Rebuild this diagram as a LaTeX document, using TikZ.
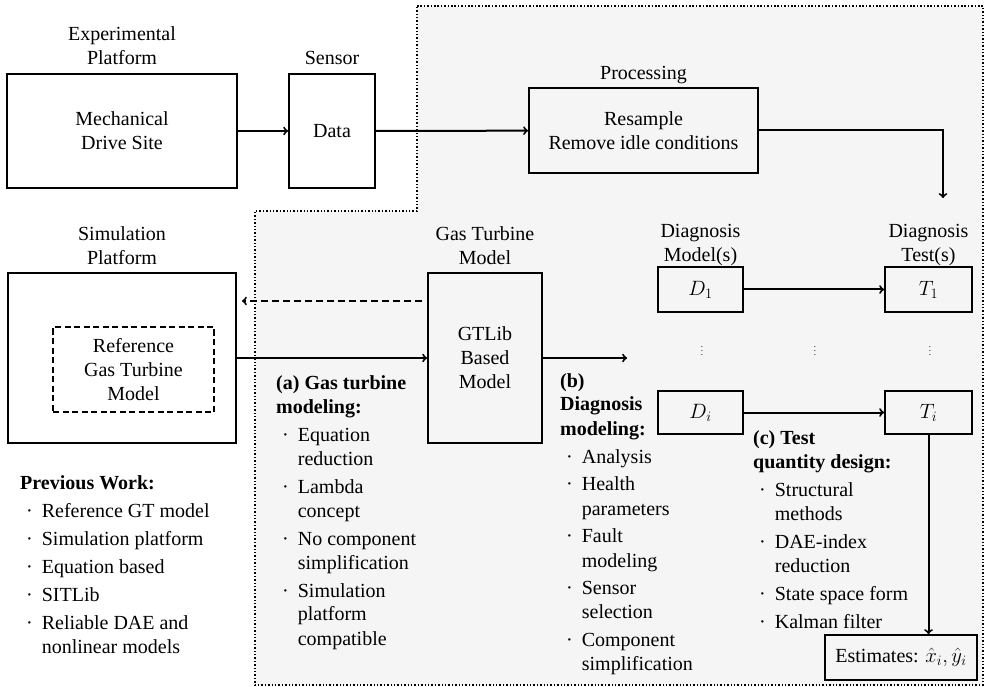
\documentclass[tikz,border=0pt]{standalone}
\usepackage{fontspec}
\setmainfont{Liberation Serif}
\usetikzlibrary{positioning}
\newcommand{\fsz}{\fontsize{20}{24}\selectfont}
\newcommand{\bul}{\textperiodcentered}
\newcommand{\lhead}[1]{\multicolumn{2}{@{}l@{}}{\textbf{#1}}}
\newenvironment{lsttab}{\begin{tabular}[t]{@{\hspace{6pt}}l@{\hspace{9pt}}l@{}}}{\end{tabular}}

\tikzset{
 blk/.style={draw, line width=1.9pt, align=center, inner sep=0pt},
 ttl/.style={align=center, inner sep=0pt},
 lst/.style={anchor=base west, inner sep=0pt},
 arr/.style={->, line width=2pt},
 dsh/.style={dash pattern=on 6pt off 3.5pt},
}

\begin{document}
\begin{tikzpicture}[x=1pt, y=-1pt, font=\fsz]
\useasboundingbox (0,0) rectangle (986,687);
\draw[fill=black!4, line width=2.2pt, dash pattern=on 1.5pt off 1.9pt]
 (417,6) -- (983,6) -- (983,685) -- (255,685) -- (255,211) -- (417,211) -- cycle;

\node[blk, minimum width=230pt, minimum height=114pt] (exp) at (122,131) {Mechanical\\Drive Site};
\node[blk, minimum width=86pt, minimum height=114pt] (dat) at (332,131) {Data};
\node[blk, minimum width=229pt, minimum height=85pt] (proc) at (643.5,130.5) {Resample\\Remove idle conditions};
\node[blk, minimum width=228pt, minimum height=170pt] (sim) at (122,358) {};
\node[blk, dsh, minimum width=161pt, minimum height=85pt] (ref) at (133.5,369.5) {Reference\\Gas Turbine\\Model};
\node[blk, minimum width=114pt, minimum height=170pt] (gt) at (485,358) {GTLib\\Based\\Model};
\node[blk, minimum width=85pt, minimum height=45pt] (d1) at (700.5,289.5) {$D_1$};
\node[blk, minimum width=87pt, minimum height=45pt] (t1) at (928.5,289.5) {$T_1$};
\node[blk, minimum width=85pt, minimum height=43pt] (di) at (700.5,412.5) {$D_i$};
\node[blk, minimum width=87pt, minimum height=43pt] (ti) at (928.5,412.5) {$T_i$};
\node[blk, minimum width=152pt, minimum height=45pt] (est) at (901,657.5) {Estimates: $\hat{x}_i, \hat{y}_i$};

\node[ttl, above=8pt of exp] (expt) {Experimental\\Platform};
\node[ttl, above=8pt of dat] (sent) {Sensor};
\node[ttl, above=3pt of proc] (proct) {Processing};
\node[ttl, above=7pt of sim] (simt) {Simulation\\Platform};
\node[ttl, above=7pt of gt] (gtt) {Gas Turbine\\Model};
\node[ttl, above=0pt of d1] (d1t) {Diagnosis\\Model(s)};
\node[ttl, above=0pt of t1] (t1t) {Diagnosis\\Test(s)};

\foreach \x in {702,815,930}
 \node[font=\fontsize{9}{10}\selectfont, inner sep=0pt] (vd\x) at (\x,348) {$\vdots$};

\coordinate (dtin) at (943,198);
\coordinate (ret) at (242,301);
\coordinate (bin) at (627,358);
\draw[arr] (exp) -- (dat);
\draw[arr] (dat) -- (proc);
\draw[arr] (proc.east) -| (dtin);
\draw[arr, dash pattern=on 7pt off 4pt, shorten <=5pt] (ret -| gt.west) -- (ret);
\draw[arr] (sim) -- (gt);
\draw[arr] (gt.east) -- (bin);
\draw[arr] (d1) -- (t1);
\draw[arr] (di) -- (ti);
\draw[arr] (ti.south) -- (ti.south |- est.north);

\node[lst] (prev) at (20,489) {\begin{lsttab}
\lhead{Previous Work:}\\[4pt]
\bul & Reference GT model\\[4pt]
\bul & Simulation platform\\[4pt]
\bul & Equation based\\[4pt]
\bul & SITLib\\[4pt]
\bul & Reliable DAE and\\
 & nonlinear models
\end{lsttab}};
\node[lst] (gtm) at (276,389) {\begin{lsttab}
\lhead{(a) Gas turbine}\\
\lhead{modeling:}\\[4pt]
\bul & Equation\\
 & reduction\\[4pt]
\bul & Lambda\\
 & concept\\[4pt]
\bul & No component\\
 & simplification\\[4pt]
\bul & Simulation\\
 & platform\\
 & compatible
\end{lsttab}};
\node[lst] (dgm) at (560,387) {\begin{lsttab}
\lhead{(b)}\\
\lhead{Diagnosis}\\
\lhead{modeling:}\\[4pt]
\bul & Analysis\\[4pt]
\bul & Health\\
 & parameters\\[4pt]
\bul & Fault\\
 & modeling\\[4pt]
\bul & Sensor\\
 & selection\\[4pt]
\bul & Component\\
 & simplification
\end{lsttab}};
\node[lst] (tqd) at (753,444) {\begin{lsttab}
\lhead{(c) Test}\\
\lhead{quantity design:}\\[4pt]
\bul & Structural\\
 & methods\\[4pt]
\bul & DAE-index\\
 & reduction\\[4pt]
\bul & State space form\\[4pt]
\bul & Kalman filter
\end{lsttab}};
\end{tikzpicture}
\end{document}
